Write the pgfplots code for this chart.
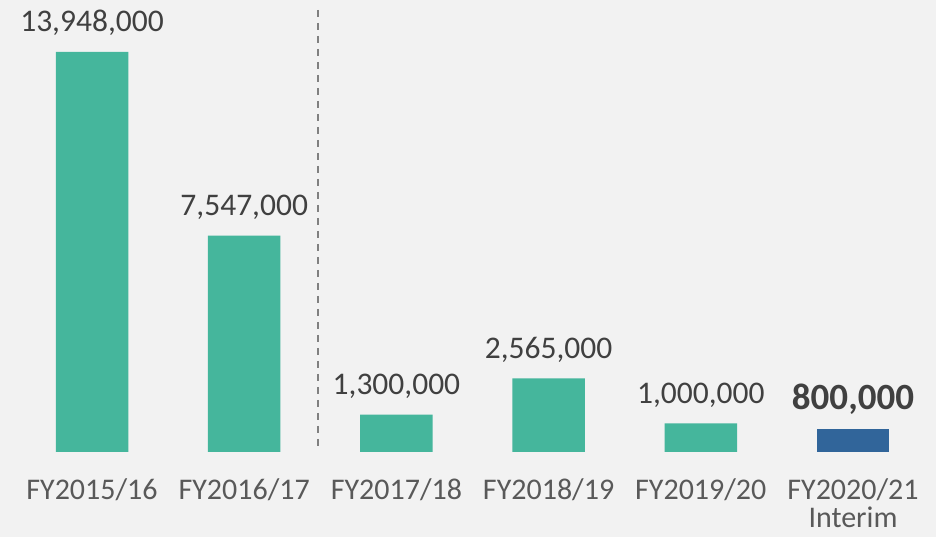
\documentclass[border=0pt]{standalone}
\usepackage{pgfplots}
\usepackage{pgfplotstable}
\pgfplotsset{compat=1.18}
\usepackage{fontspec}
\setmainfont{Carlito}
\definecolor{bg}{HTML}{F2F2F2}
\definecolor{tealbar}{HTML}{45B69C}
\definecolor{bluebar}{HTML}{31659A}
\definecolor{txt}{HTML}{404040}
\definecolor{lbl}{HTML}{595959}
\definecolor{dashc}{HTML}{808080}
\tikzset{cat/.style={anchor=base, text=lbl, inner sep=1pt, font=\fontsize{30}{36}\selectfont}}
\pgfplotstableread{
x y label
0 13948000 13,948,000
1 7547000 7,547,000
2 1300000 1,300,000
3 2565000 2,565,000
4 1000000 1,000,000
}\tealdata
\pgfplotstableread{
x y label
5 800000 800,000
}\bluedata
\begin{document}
\begin{tikzpicture}
\begin{axis}[
  scale only axis, width=936pt, height=537pt,
  xmin=-0.6045, xmax=5.5454,
  ymin=-2963950, ymax=15761240,
  axis lines=none,
  clip=false,
  axis background/.style={fill=bg},
]
\addplot[ybar, bar width=72.5pt, bar shift=0pt, fill=tealbar, draw=none,
  nodes near coords, point meta=explicit symbolic,
  every node near coord/.append style={anchor=base, yshift=20pt, text=txt, font=\fontsize{31.5}{36}\selectfont}]
  table[x=x, y=y, meta=label] {\tealdata};
\addplot[ybar, bar width=72.5pt, bar shift=0pt, fill=bluebar, draw=none,
  nodes near coords, point meta=explicit symbolic,
  every node near coord/.append style={anchor=base, yshift=20pt, text=txt, font=\bfseries\fontsize{37}{42}\selectfont}]
  table[x=x, y=y, meta=label] {\bluedata};
\addplot[dashc, line width=1.6pt, dash pattern=on 7pt off 6pt] coordinates {(1.485,15412540) (1.485,0)};
\node[cat] at (axis cs:0,-1673760) {FY2015/16};
\node[cat] at (axis cs:1,-1673760) {FY2016/17};
\node[cat] at (axis cs:2,-1673760) {FY2017/18};
\node[cat] at (axis cs:3,-1673760) {FY2018/19};
\node[cat] at (axis cs:4,-1673760) {FY2019/20};
\node[cat] at (axis cs:5,-1673760) {FY2020/21};
\node[cat] at (axis cs:5,-2650000) {Interim};
\end{axis}
\end{tikzpicture}
\end{document}
